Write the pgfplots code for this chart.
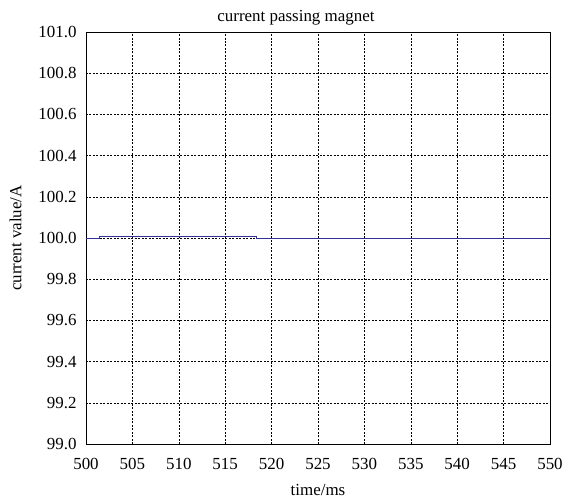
\documentclass[border=0pt]{standalone}
\usepackage{pgfplots}
\pgfplotsset{compat=1.18}
\usepackage{fontspec}
\setmainfont{Liberation Serif}
\definecolor{navyline}{RGB}{50,50,150}
\begin{document}
\begin{tikzpicture}
\begin{axis}[
  name=ax,
  scale only axis,
  width=464bp, height=412bp,
  xmin=500, xmax=550, ymin=99, ymax=101,
  xtick={500,505,...,550},
  ytick={99,99.2,...,101},
  /pgf/number format/assume math mode=true,
  yticklabel style={/pgf/number format/.cd,fixed,fixed zerofill,precision=1,/tikz/.cd,xshift=-6pt},
  xticklabel style={/pgf/number format/.cd,fixed,precision=0,/tikz/.cd,yshift=-11pt},
  scaled ticks=false,
  tick style={draw=none},
  grid=major,
  major grid style={black, dash pattern=on 2pt off 1.5pt, line width=0.5pt},
  axis line style={black, line width=0.8pt},
  tick label style={font=\fontsize{17}{19}\selectfont},
  label style={font=\fontsize{17}{19}\selectfont},
  title style={font=\fontsize{17}{19}\selectfont, yshift=-3pt, xshift=-22bp},
  title={current passing magnet},
  xlabel={time/ms},
  ylabel={current value/A},
  xlabel shift=8pt,
  ylabel shift=10pt,
]
\addplot[color=navyline, line width=0.7pt] coordinates {
  (500,100) (501.4,100) (501.4,100.006) (518.4,100.006) (518.4,100) (550,100)};
\end{axis}
\pgfresetboundingbox
\path[use as bounding box] ([shift={(-86bp,-59bp)}]ax.south west) rectangle ([shift={(13bp,32bp)}]ax.north east);
\end{tikzpicture}
\end{document}
